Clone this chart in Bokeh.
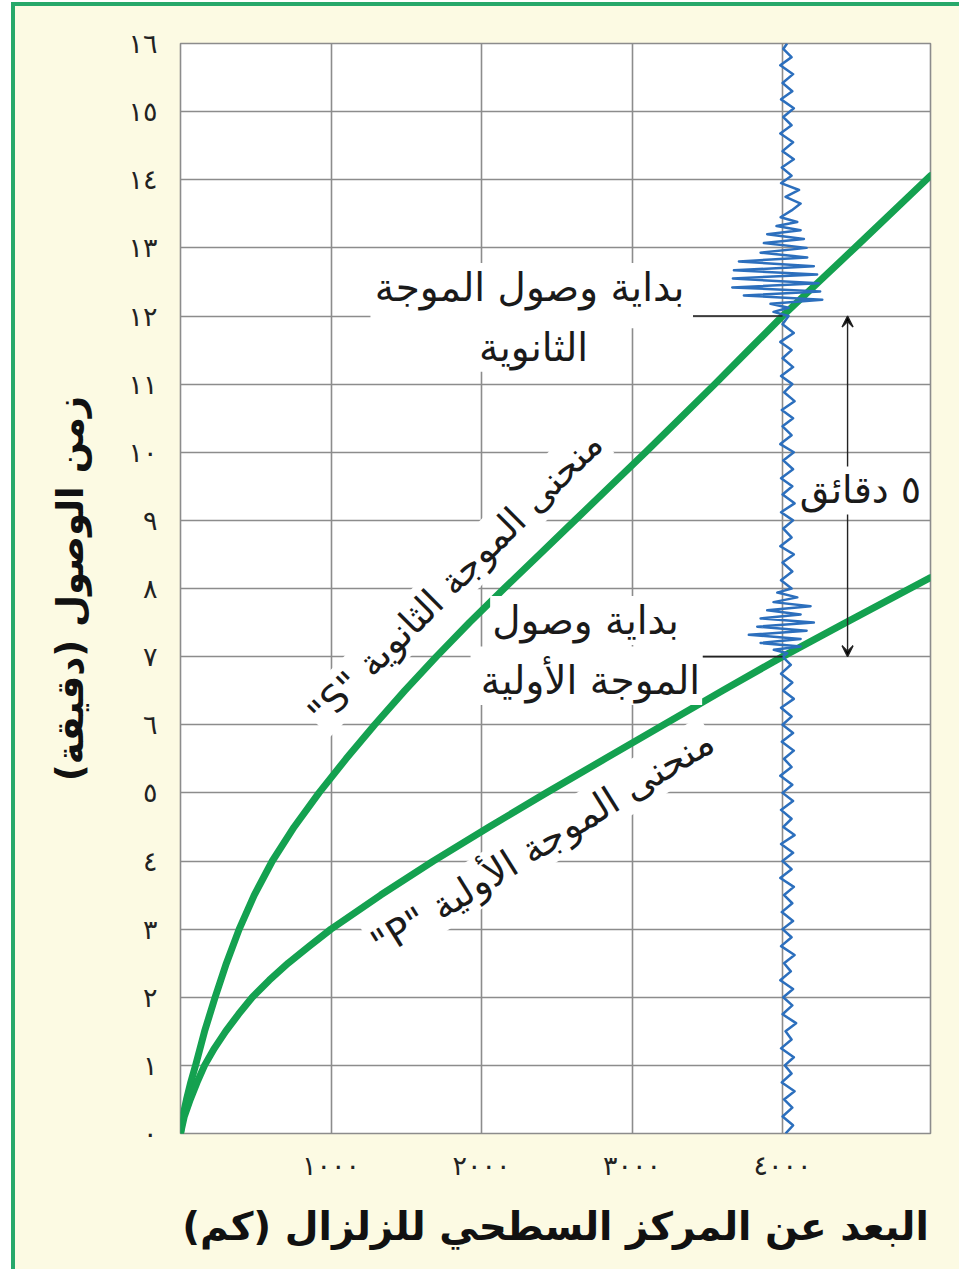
from bokeh.plotting import figure
from bokeh.models import Range1d, FixedTicker, Label, Arrow, VeeHead, BoxAnnotation
from bokeh.embed import file_html
from bokeh.resources import INLINE

# ---------------- data ----------------
# S (secondary) wave travel-time curve: distance (km) -> minutes
s_km  = [0, 15, 40, 68, 100, 160, 230, 305, 390, 490, 610, 755, 920, 1100, 1290, 1490, 1700,
         1920, 2150, 2385, 2620, 2855, 3090, 3320, 3550, 3775, 4000, 4480, 4983]
s_min = [0, 0.25, 0.5, 0.75, 1, 1.5, 2, 2.5, 3, 3.5, 4, 4.5, 5, 5.5, 6, 6.5, 7,
         7.5, 8, 8.5, 9, 9.5, 10, 10.5, 11, 11.5, 12, 13, 14.06]
# P (primary) wave travel-time curve
p_km  = [0, 25, 65, 110, 160, 225, 300, 385, 477, 590, 715, 855, 1000, 1330, 1680, 2050,
         2430, 2820, 3210, 3600, 4000, 4420, 4983]
p_min = [0, 0.25, 0.5, 0.75, 1, 1.25, 1.5, 1.75, 2, 2.25, 2.5, 2.75, 3, 3.5, 4, 4.5,
         5, 5.5, 6, 6.5, 7, 7.5, 8.16]

# seismograph station and arrivals
station_km = 4000
p_arrival_min = 7
s_arrival_min = 12
gap_label = "٥ دقائق"

# seismogram trace: (minutes, horizontal offset in km from the station line)
seismogram = [
    (0.00, 20), (0.12, 70), (0.25, 0), (0.38, 65), (0.50, 10), (0.62, 80), (0.75, -5), (0.88, 60),
    (1.00, 15), (1.12, 75), (1.25, -10), (1.38, 60), (1.50, 20), (1.62, 90), (1.75, 0), (1.88, 65),
    (2.00, 5), (2.12, 70), (2.25, -15), (2.38, 55), (2.50, 10), (2.62, 80), (2.75, -10), (2.88, 60),
    (3.00, 0), (3.12, 70), (3.25, -5), (3.38, 65), (3.50, 10), (3.62, 75), (3.75, -15), (3.88, 60),
    (4.00, 0), (4.12, 70), (4.25, -10), (4.38, 80), (4.50, 5), (4.62, 60), (4.75, -10), (4.88, 70),
    (5.00, 0), (5.12, 65), (5.25, -15), (5.38, 60), (5.50, 10), (5.62, 75), (5.75, -5), (5.88, 70),
    (6.00, 0), (6.12, 60), (6.25, -10), (6.38, 75), (6.50, 5), (6.62, 65), (6.75, -10), (6.88, 55),
    (7.00, 0),
    (7.05, 31), (7.10, -58), (7.15, 120), (7.20, -146), (7.26, 120), (7.32, -224), (7.38, 160),
    (7.44, -168), (7.50, 208), (7.56, -146), (7.62, 120), (7.68, -102), (7.74, 186), (7.80, -60),
    (7.87, 98), (7.94, -35), (8.00, 60),
    (8.12, -10), (8.25, 65), (8.38, 0), (8.50, 75), (8.62, -15), (8.75, 60), (8.88, 5), (9.00, 70),
    (9.12, -10), (9.25, 80), (9.38, 0), (9.50, 65), (9.62, -10), (9.75, 70), (9.88, 5), (10.00, 75),
    (10.12, -15), (10.25, 60), (10.38, 0), (10.50, 70), (10.62, -5), (10.75, 80), (10.88, 10),
    (11.00, 65), (11.12, -10), (11.25, 70), (11.38, 0), (11.50, 60), (11.62, -15), (11.75, 75),
    (11.88, 0), (12.00, 40),
    (12.06, -60), (12.12, 40), (12.18, -80), (12.24, 264), (12.30, -257), (12.36, 250), (12.42, -334),
    (12.48, 240), (12.55, -330), (12.61, 230), (12.67, -323), (12.73, 208), (12.80, -290), (12.86, 164),
    (12.93, -146), (13.00, 160), (13.07, -124), (13.13, 142), (13.20, -102), (13.26, 120), (13.32, -40),
    (13.38, 98), (13.45, -13),
    (13.55, 60), (13.65, 120), (13.75, 20), (13.85, 110), (13.95, -10), (14.06, 60), (14.18, -5),
    (14.30, 75), (14.42, 0), (14.55, 70), (14.68, -15), (14.80, 60), (14.92, 5), (15.05, 75),
    (15.18, -10), (15.30, 65), (15.42, 0), (15.55, 70), (15.68, -15), (15.80, 60), (15.92, 5), (16.00, 30),
]

x_ticks = [1000, 2000, 3000, 4000]
x_tick_labels = ["١٠٠٠", "٢٠٠٠", "٣٠٠٠", "٤٠٠٠"]
y_ticks = [0, 1, 2, 3, 4, 5, 6, 7, 8, 9, 10, 11, 12, 13, 14, 15, 16]
y_tick_labels = ["٠", "١", "٢", "٣", "٤", "٥", "٦", "٧", "٨", "٩", "١٠",
                 "١١", "١٢", "١٣", "١٤", "١٥", "١٦"]

x_title = "\u200fالبعد عن المركز السطحي للزلزال (كم)\u200f"
y_title = "\u200fزمن الوصول (دقيقة)\u200f"
s_curve_label = "\u202bمنحنى الموجة الثانوية \"S\"\u202c"
p_curve_label = "\u202bمنحنى الموجة الأولية \"P\"\u202c"
s_arrival_lines = ["بداية وصول الموجة", "الثانوية"]
p_arrival_lines = ["بداية وصول", "الموجة الأولية"]

# ---------------- styling ----------------
GREEN = "#14a150"
BLUE = "#2c6fbd"
GRID = "#8c8c8c"
CREAM = "#fcfae3"
EDGE = "#27a86a"
AR_FONT = "DejaVu Sans"
W, H = 959, 1269

p = figure(width=W, height=H,
           x_range=Range1d(0, 4983), y_range=Range1d(0, 16),
           output_backend="svg", toolbar_location=None,
           min_border_left=180, min_border_right=29, min_border_top=43, min_border_bottom=136,
           background_fill_color="white", border_fill_color=CREAM, border_fill_alpha=0,
           outline_line_color=GRID, outline_line_width=1.6)

# cream page with a green edge line on the left and top (painted behind the transparent border area)
p.styles = {
    "background": (f"linear-gradient({EDGE},{EDGE}) 11px 2px / 4px 100% no-repeat, "
                   f"linear-gradient({EDGE},{EDGE}) 11px 2px / 100% 4px no-repeat, "
                   f"linear-gradient({CREAM},{CREAM}) 15px 6px / 100% 100% no-repeat, white"),
}

p.xaxis.ticker = FixedTicker(ticks=x_ticks)
p.yaxis.ticker = FixedTicker(ticks=y_ticks)
p.xaxis.major_label_overrides = dict(zip(x_ticks, x_tick_labels))
p.yaxis.major_label_overrides = dict(zip(y_ticks, y_tick_labels))

for ax in (p.xaxis[0], p.yaxis[0]):
    ax.axis_line_color = None
    ax.major_tick_line_color = None
    ax.minor_tick_line_color = None
    ax.major_label_text_font = AR_FONT
    ax.major_label_text_font_size = "27px"
    ax.major_label_text_color = "#222222"
    ax.axis_label_text_font = AR_FONT
    ax.axis_label_text_font_style = "bold"
    ax.axis_label_text_color = "#111111"

p.xaxis.axis_label = x_title
p.yaxis.axis_label = y_title
p.xaxis.axis_label_text_font_size = "39px"
p.yaxis.axis_label_text_font_size = "37px"
p.xaxis.major_label_standoff = 10
p.yaxis.major_label_standoff = 17
p.xaxis.axis_label_standoff = 20
p.yaxis.axis_label_standoff = 33

p.grid.grid_line_color = GRID
p.grid.grid_line_width = 1.6

# knock-out areas behind the two-line arrival labels (hide grid lines)
p.add_layout(BoxAnnotation(left=1262, right=3405, bottom=11.82, top=12.18,
                           fill_color="white", fill_alpha=1, line_alpha=0, level="underlay"))
p.add_layout(BoxAnnotation(left=1927, right=3470, bottom=6.85, top=7.15,
                           fill_color="white", fill_alpha=1, line_alpha=0, level="underlay"))

# travel-time curves
p.line(s_km, s_min, line_color=GREEN, line_width=7, line_cap="round", line_join="round")
p.line(p_km, p_min, line_color=GREEN, line_width=7, line_cap="round", line_join="round")

# seismogram
seis_t = [t for t, d in seismogram]
seis_x = [station_km + d for t, d in seismogram]
p.line(seis_x, seis_t, line_color=BLUE, line_width=2.5, line_join="round")

# leader lines from labels to arrivals
p.segment(x0=[3405, 3470], y0=[s_arrival_min, p_arrival_min],
          x1=[station_km, station_km], y1=[s_arrival_min, p_arrival_min],
          line_color="#222222", line_width=1.6)

# double arrow: 5 minutes gap
p.add_layout(Arrow(x_start=4432, y_start=p_arrival_min, x_end=4432, y_end=s_arrival_min,
                   start=VeeHead(size=11, line_color="#222222", line_width=1.4),
                   end=VeeHead(size=11, line_color="#222222", line_width=1.4),
                   line_color="#222222", line_width=1.4))

def add_label(x, y, text, size, angle=0):
    p.add_layout(Label(x=x, y=y, text=text, angle=angle, angle_units="deg",
                       text_align="center", text_baseline="middle",
                       text_font=AR_FONT, text_font_size=size, text_color="#1a1a1a",
                       background_fill_color="white", background_fill_alpha=1.0,
                       padding=2))

add_label(4518, 9.44, gap_label, "38px")
add_label(2319, 12.42, s_arrival_lines[0], "39px")
add_label(2346, 11.54, s_arrival_lines[1], "39px")
add_label(2691, 7.53, p_arrival_lines[0], "39px")
add_label(2724, 6.65, p_arrival_lines[1], "39px")
add_label(1827, 8.15, s_curve_label, "37px", angle=45)
add_label(2405, 4.27, p_curve_label, "38px", angle=32)

open("out.html", "w").write(file_html(p, INLINE))
